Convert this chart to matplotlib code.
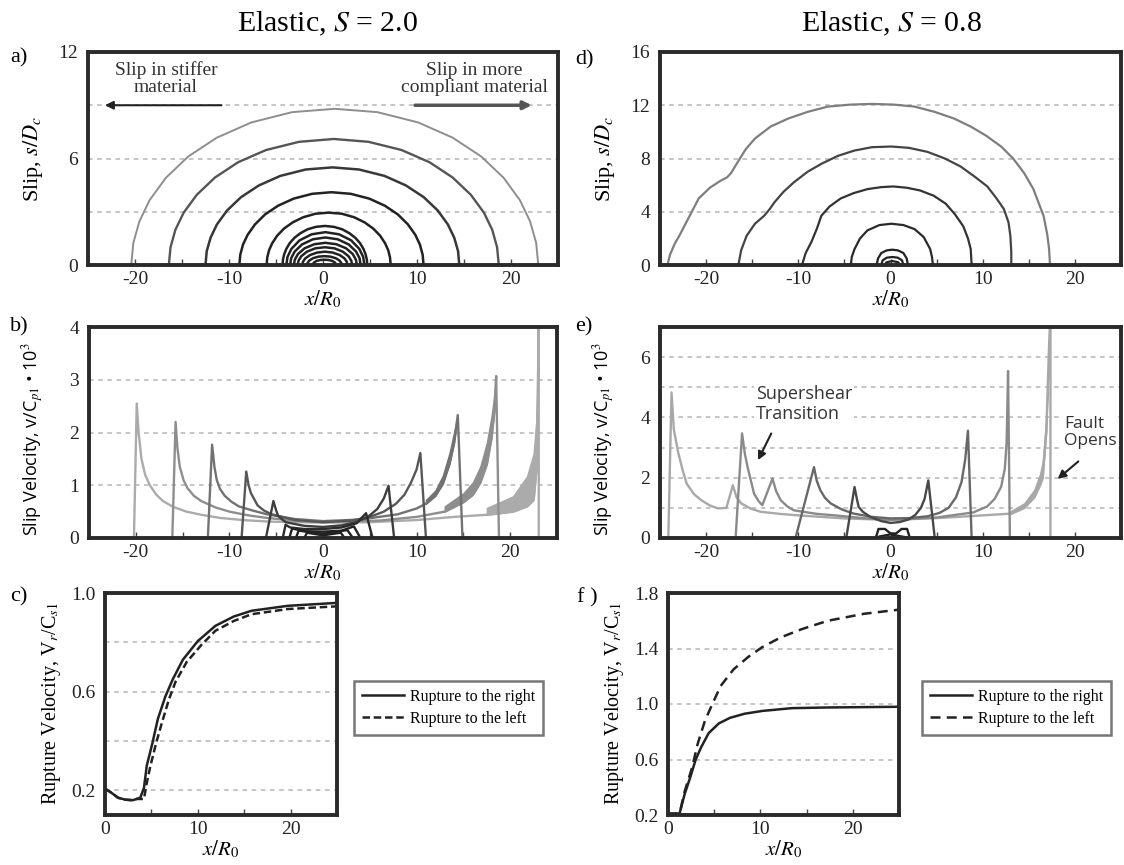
import matplotlib
matplotlib.use("Agg")
import matplotlib.pyplot as plt
from matplotlib.ticker import MultipleLocator
from matplotlib.lines import Line2D

plt.rcParams['font.family'] = ['Liberation Serif', 'DejaVu Serif']
plt.rcParams['mathtext.fontset'] = 'stix'
plt.rcParams['axes.unicode_minus'] = False

# ---- a) slip profiles, S = 2.0  (x/R0, s/Dc) ----
a_x = [
    [-20.4, -20.18, -19.53, -18.45, -16.72, -14.34, -11.31, -7.63, -3.30, 1.25, 5.80, 10.13, 13.81, 16.84, 19.22, 20.95, 22.03, 22.68, 22.9],
    [-16.4, -16.22, -15.70, -14.82, -13.42, -11.49, -9.03, -6.05, -2.54, 1.15, 4.84, 8.35, 11.33, 13.79, 15.72, 17.12, 18.0, 18.52, 18.7],
    [-12.5, -12.37, -11.96, -11.29, -10.21, -8.72, -6.83, -4.54, -1.84, 1.0, 3.84, 6.54, 8.83, 10.72, 12.21, 13.29, 13.96, 14.37, 14.5],
    [-8.9, -8.80, -8.51, -8.02, -7.23, -6.16, -4.78, -3.12, -1.16, 0.9, 2.96, 4.92, 6.58, 7.96, 9.03, 9.82, 10.31, 10.60, 10.7],
    [-6.0, -5.93, -5.74, -5.41, -4.88, -4.15, -3.23, -2.11, -0.79, 0.6, 1.99, 3.31, 4.43, 5.35, 6.08, 6.61, 6.94, 7.13, 7.2],
    [-4.3, -4.26, -4.12, -3.90, -3.54, -3.04, -2.41, -1.65, -0.75, 0.2, 1.15, 2.05, 2.81, 3.44, 3.94, 4.30, 4.52, 4.66, 4.7],
    [-3.9, -3.78, -3.36, -2.49, -1.20, 0.25, 1.70, 2.99, 3.86, 4.28, 4.4],
    [-3.5, -3.39, -3.01, -2.23, -1.06, 0.25, 1.56, 2.73, 3.51, 3.89, 4.0],
    [-3.1, -3.0, -2.66, -1.96, -0.92, 0.25, 1.42, 2.46, 3.16, 3.5, 3.6],
    [-2.7, -2.61, -2.32, -1.71, -0.82, 0.2, 1.22, 2.11, 2.72, 3.01, 3.1],
    [-2.2, -2.13, -1.89, -1.38, -0.64, 0.2, 1.04, 1.78, 2.29, 2.53, 2.6],
    [-1.7, -1.64, -1.46, -1.07, -0.50, 0.15, 0.80, 1.37, 1.76, 1.94, 2.0],
    [-1.1, -1.06, -0.94, -0.68, -0.29, 0.15, 0.59, 0.98, 1.24, 1.36, 1.4],
]
a_s = [
    [0, 1.24, 2.46, 3.65, 4.91, 6.11, 7.17, 8.03, 8.61, 8.8, 8.61, 8.03, 7.17, 6.11, 4.91, 3.65, 2.46, 1.24, 0],
    [0, 1.0, 1.99, 2.95, 3.96, 4.93, 5.79, 6.48, 6.94, 7.1, 6.94, 6.48, 5.79, 4.93, 3.96, 2.95, 1.99, 1.0, 0],
    [0, 0.78, 1.54, 2.28, 3.07, 3.82, 4.48, 5.02, 5.38, 5.5, 5.38, 5.02, 4.48, 3.82, 3.07, 2.28, 1.54, 0.78, 0],
    [0, 0.58, 1.15, 1.70, 2.29, 2.85, 3.34, 3.74, 4.01, 4.1, 4.01, 3.74, 3.34, 2.85, 2.29, 1.70, 1.15, 0.58, 0],
    [0, 0.42, 0.83, 1.22, 1.65, 2.05, 2.40, 2.69, 2.89, 2.95, 2.89, 2.69, 2.40, 2.05, 1.65, 1.22, 0.83, 0.42, 0],
    [0, 0.31, 0.62, 0.91, 1.23, 1.53, 1.79, 2.01, 2.15, 2.2, 2.15, 2.01, 1.79, 1.53, 1.23, 0.91, 0.62, 0.31, 0],
    [0, 0.45, 0.91, 1.39, 1.73, 1.85, 1.73, 1.39, 0.91, 0.45, 0],
    [0, 0.38, 0.76, 1.16, 1.45, 1.55, 1.45, 1.16, 0.76, 0.38, 0],
    [0, 0.30, 0.62, 0.94, 1.17, 1.25, 1.17, 0.94, 0.62, 0.30, 0],
    [0, 0.24, 0.49, 0.75, 0.94, 1.0, 0.94, 0.75, 0.49, 0.24, 0],
    [0, 0.18, 0.37, 0.56, 0.70, 0.75, 0.70, 0.56, 0.37, 0.18, 0],
    [0, 0.12, 0.25, 0.38, 0.47, 0.5, 0.47, 0.38, 0.25, 0.12, 0],
    [0, 0.07, 0.15, 0.23, 0.28, 0.3, 0.28, 0.23, 0.15, 0.07, 0],
]

# ---- d) slip profiles, S = 0.8 ----
d_x = [
    [-24.2, -23.9, -23.4, -22.9, -22.0, -20.8, -19.6, -18.5, -17.7, -17.3, -16.6, -15.7, -14.7, -13.0, -11.1, -9.0,
     -6.8, -4.3, -2.0, 0.3, 2.6, 4.8, 6.9, 8.7, 10.4, 12.0, 13.3, 14.5, 15.5, 16.1, 16.6, 17.0, 17.2, 17.3],
    [-16.5, -16.2, -15.6, -14.7, -13.7, -13.1, -12.6, -11.6, -10.5, -9.0, -7.5, -5.7, -3.9, -2.0, 0.1, 2.0, 4.0,
     5.9, 7.6, 9.2, 10.5, 11.5, 12.3, 12.8, 13.0, 13.1, 13.1],
    [-9.6, -9.2, -8.6, -8.0, -7.5, -6.6, -5.4, -4.0, -2.5, -1.0, 0.3, 1.8, 3.2, 4.7, 6.0, 7.0, 7.9, 8.4, 8.7, 8.8],
    [-4.3, -4.2, -3.9, -3.3, -2.5, -1.2, 0.1, 1.4, 2.6, 3.6, 4.3, 4.5, 4.6],
    [-1.5, -1.35, -1.0, -0.4, 0.2, 0.8, 1.4, 1.75, 1.9],
    [-1.0, -0.85, -0.4, 0.2, 0.8, 1.25, 1.4],
    [-0.6, -0.45, 0.2, 0.85, 1.0],
]
d_s = [
    [0, 0.8, 1.6, 2.2, 3.4, 5.0, 5.8, 6.3, 6.6, 6.9, 7.7, 8.7, 9.5, 10.4, 11.0, 11.5,
     11.9, 12.05, 12.1, 12.05, 11.9, 11.5, 11.0, 10.4, 9.7, 8.9, 8.0, 6.9, 5.7, 4.6, 3.7, 2.3, 1.2, 0],
    [0, 1.1, 2.2, 3.1, 3.7, 4.2, 4.7, 5.5, 6.2, 7.0, 7.6, 8.2, 8.6, 8.85, 8.9, 8.8, 8.5,
     8.0, 7.4, 6.6, 5.9, 5.0, 4.2, 3.2, 2.2, 1.0, 0],
    [0, 0.9, 1.7, 2.7, 3.7, 4.4, 5.0, 5.4, 5.7, 5.85, 5.9, 5.8, 5.6, 5.2, 4.6, 3.8, 2.9, 2.0, 1.2, 0],
    [0, 0.6, 1.2, 2.0, 2.6, 3.0, 3.1, 3.0, 2.7, 2.1, 1.2, 0.6, 0],
    [0, 0.5, 0.9, 1.1, 1.15, 1.1, 0.9, 0.5, 0],
    [0, 0.35, 0.55, 0.6, 0.55, 0.35, 0],
    [0, 0.2, 0.3, 0.2, 0],
]

# ---- b) slip velocity, S = 2.0 ----
b_x = [
    [-20.2, -19.9, -19.7, -19.4, -19.0, -18.5, -17.8, -17.1, -16.0, -14.6, -13.0, -11.0, -8.5, -5.7, 0, 5, 10, 14,
     17.5, 20.3, 21.8, 22.5, 22.8, 23.0, 23.05, 23.05],
    [-16.1, -15.75, -15.55, -15.3, -14.9, -14.5, -13.8, -13.0, -11.5, -10.0, -8.0, -6.0, -3.0, 0, 6, 10, 13, 15,
     16.0, 16.8, 17.5, 18.0, 18.3, 18.5, 18.8],
    [-12.3, -11.85, -11.6, -11.35, -11.0, -10.5, -9.8, -9.0, -7.5, -6.0, -3.0, 0, 4, 8, 10, 11, 12, 12.8, 13.5,
     14.0, 14.4, 14.9],
    [-8.7, -8.2, -7.95, -7.7, -7.3, -7.0, -6.3, -5.5, -3.0, 0, 3, 5, 6.5, 7.8, 8.7, 9.4, 10.0, 10.4, 11.0],
    [-6.1, -5.3, -5.0, -4.8, -4.0, -2.0, 0, 2, 3.5, 4.8, 5.8, 6.5, 7.0, 7.6],
    [-4.3, -4.0, -3.5, -2, 0, 2, 3.6, 4.6, 5.3],
    [-3.6, -3.3, -2, 0, 2, 3.3, 4.0],
    [-2.9, -2.6, 0, 2.6, 3.2],
    [-2.0, -1.7, 0, 1.9, 2.3],
]
b_v = [
    [0, 2.55, 2.0, 1.5, 1.2, 1.0, 0.82, 0.7, 0.59, 0.5, 0.44, 0.38, 0.34, 0.31, 0.29, 0.3, 0.34, 0.4,
     0.44, 0.5, 0.6, 0.72, 1.3, 3.4, 4.2, 0],
    [0, 2.2, 1.7, 1.35, 1.1, 0.95, 0.8, 0.7, 0.58, 0.5, 0.43, 0.38, 0.33, 0.3, 0.33, 0.4, 0.5, 0.68,
     0.82, 1.05, 1.4, 1.9, 2.4, 3.07, 0],
    [0, 1.77, 1.35, 1.1, 0.93, 0.8, 0.69, 0.6, 0.52, 0.45, 0.36, 0.32, 0.35, 0.45, 0.56, 0.65, 0.8, 1.03, 1.4,
     1.8, 2.33, 0],
    [0, 1.26, 1.0, 0.85, 0.72, 0.62, 0.52, 0.45, 0.34, 0.3, 0.33, 0.4, 0.5, 0.65, 0.82, 1.05, 1.3, 1.61, 0],
    [0, 0.7, 0.52, 0.42, 0.3, 0.23, 0.21, 0.24, 0.3, 0.4, 0.55, 0.75, 0.99, 0],
    [0, 0.25, 0.2, 0.17, 0.17, 0.2, 0.28, 0.47, 0],
    [0, 0.18, 0.13, 0.12, 0.14, 0.22, 0],
    [0, 0.14, 0.08, 0.15, 0],
    [0, 0.1, 0.05, 0.1, 0],
]
b_colors = ['#ababab', '#8e8e8e', '#727272', '#575757', '#3e3e3e', '#2c2c2c', '#222222', '#222222', '#222222']
# thick oscillation bands near the right tips
b_band_x = [[17.5, 20.3, 21.8, 22.5, 22.8, 23.0], [13, 15, 16.0, 16.8, 17.5, 18.0, 18.3, 18.5],
            [11, 12, 12.8, 13.5, 14.0, 14.4]]
b_band_lo = [[0.44, 0.5, 0.6, 0.72, 1.3, 3.4], [0.5, 0.68, 0.82, 1.05, 1.4, 1.9, 2.4, 3.07],
             [0.65, 0.8, 1.03, 1.4, 1.8, 2.33]]
b_band_hi = [[0.57, 0.79, 1.17, 1.6, 2.25, 3.4], [0.6, 0.85, 1.05, 1.35, 1.8, 2.3, 2.7, 3.07],
             [0.72, 0.9, 1.18, 1.6, 2.0, 2.33]]

# ---- e) slip velocity, S = 0.8 ----
e_x = [
    [-24.1, -23.75, -23.5, -23.0, -22.5, -22.1, -21.3, -20.5, -19.6, -18.7, -17.8, -17.1, -16.7, -16.2, -15.2,
     -14.1, -12.0, -10, -5, 0, 5, 10, 13.1, 14.5, 15.6, 16.2, 16.5, 16.9, 17.2, 17.35, 17.35],
    [-16.8, -16.1, -15.8, -15.5, -15.1, -14.8, -14.3, -13.9, -12.8, -12.4, -11.9, -11.2, -10.5, -8, -6, -3, 0, 5,
     9, 10.5, 11.3, 12, 12.4, 12.6, 12.75, 12.95],
    [-10.3, -8.3, -8.0, -7.6, -7.1, -6.5, -5.3, -4.0, -2, 0, 2, 4, 5.3, 6.3, 7.1, 7.7, 8.1, 8.4, 8.8],
    [-4.8, -3.9, -3.65, -3.45, -3.0, -2.2, -1, 0, 1, 2, 2.7, 3.3, 3.7, 4.1, 4.8],
    [-1.6, -1.3, -0.6, 0, 0.6, 1.2, 1.8, 2.1],
    [-1.6, -1.2, 0, 1.2, 2.1],
]
e_v = [
    [0, 4.83, 3.6, 2.8, 2.2, 1.8, 1.45, 1.25, 1.08, 0.98, 1.0, 1.75, 1.35, 1.15, 0.98,
     0.87, 0.8, 0.75, 0.65, 0.6, 0.66, 0.75, 0.81, 1.0, 1.36, 1.75, 2.0, 3.56, 6.4, 7.5, 0],
    [0, 3.47, 2.8, 2.35, 1.85, 1.47, 1.22, 1.09, 1.97, 1.55, 1.25, 1.05, 0.92, 0.8, 0.75, 0.66, 0.6, 0.68,
     0.85, 1.05, 1.3, 1.7, 2.3, 3.2, 5.54, 0],
    [0, 2.35, 1.9, 1.58, 1.33, 1.15, 0.95, 0.81, 0.7, 0.65, 0.66, 0.72, 0.83, 1.0, 1.35, 1.85, 2.6, 3.56, 0],
    [0, 1.69, 1.3, 1.03, 0.87, 0.7, 0.56, 0.5, 0.53, 0.62, 0.77, 1.0, 1.3, 1.91, 0],
    [0, 0.3, 0.3, 0.15, 0.15, 0.3, 0.3, 0],
    [0, 0.05, 0.12, 0.05, 0],
]
e_colors = ['#a8a8a8', '#8a8a8a', '#686868', '#484848', '#222222', '#222222']
e_band_x = [[13.1, 14.5, 15.6, 16.2, 16.5, 16.9, 17.2]]
e_band_lo = [[0.81, 1.0, 1.36, 1.75, 2.0, 3.56, 6.4]]
e_band_hi = [[0.9, 1.15, 1.6, 2.1, 2.5, 4.0, 6.4]]

# ---- c) / f) rupture velocity ----
c_right_x = [0, 0.7, 1.4, 2.2, 3.0, 3.8, 4.2, 4.5, 5.1, 5.7, 6.5, 7.3, 8.4, 10, 11.9, 13.9, 15.8, 19.7, 25]
c_right_v = [0.207, 0.19, 0.17, 0.162, 0.16, 0.17, 0.21, 0.3, 0.39, 0.49, 0.58, 0.65, 0.73, 0.805, 0.867,
             0.905, 0.928, 0.948, 0.96]
c_left_x = [0, 0.7, 1.4, 2.2, 3.0, 3.4, 4.2, 4.5, 4.9, 5.5, 6.1, 6.9, 7.6, 8.8, 10.4, 11.9, 13.9, 15.8, 19.7, 25]
c_left_v = [0.207, 0.19, 0.17, 0.162, 0.16, 0.165, 0.165, 0.23, 0.3, 0.39, 0.47, 0.57, 0.64, 0.72, 0.79, 0.847,
            0.887, 0.914, 0.935, 0.946]

f_right_x = [0, 1.25, 1.8, 2.4, 3.0, 3.6, 4.4, 5.5, 6.7, 8.3, 10.2, 13.4, 17.3, 25]
f_right_v = [0.21, 0.21, 0.35, 0.47, 0.6, 0.69, 0.79, 0.86, 0.9, 0.93, 0.95, 0.97, 0.975, 0.98]
f_left_x = [0, 1.25, 1.8, 2.6, 3.2, 4.0, 4.8, 5.7, 7.1, 8.7, 10.2, 12.2, 14.5, 17.3, 21.2, 25]
f_left_v = [0.21, 0.21, 0.37, 0.54, 0.71, 0.88, 1.0, 1.13, 1.25, 1.34, 1.41, 1.48, 1.54, 1.6, 1.65, 1.68]

W, H = 1124, 865
fig = plt.figure(figsize=(W / 100, H / 100), dpi=100)
SANS = ['Open Sans', 'DejaVu Sans']


def px_axes(l, t, r, b):
    return fig.add_axes([l / W, 1 - b / H, (r - l) / W, (b - t) / H])


def style(ax, xlim, ylim, yticks, ygrid, xticks, xminor):
    ax.set_xlim(*xlim)
    ax.set_ylim(*ylim)
    ax.set_yticks(yticks)
    ax.set_xticks(xticks)
    ax.xaxis.set_minor_locator(MultipleLocator(xminor))
    for g in ygrid:
        ax.axhline(g, color='#b5b5b5', lw=1.1, ls=(0, (3, 3)), zorder=0)
    for sp in ax.spines.values():
        sp.set_linewidth(2.8)
        sp.set_color('#2a2a2a')
    ax.tick_params(axis='x', which='both', direction='in', length=4, width=1, colors='#444444',
                   labelcolor='#222222', labelsize=14, pad=4)
    ax.tick_params(axis='y', length=0, labelsize=14, labelcolor='#222222', pad=7)


# panel a
ax_a = px_axes(88, 52, 558, 265)
style(ax_a, (-25, 25), (0, 12), [0, 6, 12], [3, 6, 9], [-20, -10, 0, 10, 20], 5)
a_cols = ['#8e8e8e', '#555555', '#383838'] + ['#222222'] * 10
a_lws = [1.4, 1.7, 1.8] + [1.8] * 10
for xs, ss, c, lw in zip(a_x, a_s, a_cols, a_lws):
    ax_a.plot(xs, ss, color=c, lw=lw)
ax_a.annotate('', xy=(-23.5, 9), xytext=(-10.5, 9),
              arrowprops=dict(arrowstyle='-|>', color='#222222', lw=1.5, mutation_scale=12))
ax_a.annotate('', xy=(22.5, 9), xytext=(9.5, 9),
              arrowprops=dict(arrowstyle='-|>', color='#555555', lw=2.5, mutation_scale=12))
ax_a.text(-16.7, 10.5, 'Slip in stiffer\nmaterial', ha='center', va='center', fontsize=14,
          color='#333333', linespacing=1.0)
ax_a.text(16.1, 10.5, 'Slip in more\ncompliant material', ha='center', va='center', fontsize=14,
          color='#333333', linespacing=1.0)
ax_a.set_ylabel('Slip, $s/D_c$', fontsize=16, labelpad=10)
ax_a.set_xlabel('$x/R_0$', fontsize=15, labelpad=1)

# panel d
ax_d = px_axes(660, 52, 1121, 265)
style(ax_d, (-25, 25), (0, 16), [0, 4, 8, 12, 16], [4, 8, 12], [-20, -10, 0, 10, 20], 5)
d_cols = ['#7e7e7e', '#444444', '#333333', '#2a2a2a', '#222222', '#222222', '#222222']
for xs, ss, c in zip(d_x, d_s, d_cols):
    ax_d.plot(xs, ss, color=c, lw=1.6)
ax_d.set_ylabel('Slip, $s/D_c$', fontsize=16, labelpad=10)
ax_d.set_xlabel('$x/R_0$', fontsize=15, labelpad=1)

# panel b
ax_b = px_axes(89, 327, 557, 538)
style(ax_b, (-25, 25), (0, 4), [0, 1, 2, 3, 4], [1, 2, 3], [-20, -10, 0, 10, 20], 5)
for xs, vs, c in zip(b_x, b_v, b_colors):
    ax_b.plot(xs, vs, color=c, lw=1.7)
for bx, lo, hi, c in zip(b_band_x, b_band_lo, b_band_hi, b_colors):
    ax_b.fill_between(bx, lo, hi, color=c, lw=1.0)
ax_b.set_ylabel('Slip Velocity, v/C$_{p1}$ \u2022 10$^3$', fontsize=13, family=SANS, labelpad=8)
ax_b.yaxis.set_label_coords(-0.092, 0.47)
ax_b.set_xlabel('$x/R_0$', fontsize=15, labelpad=1)

# panel e
ax_e = px_axes(660, 327, 1121, 538)
style(ax_e, (-25, 25), (0, 7), [0, 2, 4, 6], [1, 2, 3, 4, 5, 6], [-20, -10, 0, 10, 20], 5)
for xs, vs, c in zip(e_x, e_v, e_colors):
    ax_e.plot(xs, vs, color=c, lw=1.7)
for bx, lo, hi, c in zip(e_band_x, e_band_lo, e_band_hi, e_colors):
    ax_e.fill_between(bx, lo, hi, color=c, lw=1.0)
ax_e.text(-14.6, 4.45, 'Supershear\nTransition', ha='left', va='center', fontsize=13,
          family=SANS, color='#333333', linespacing=1.15, zorder=1.5,
          bbox=dict(facecolor='white', edgecolor='none', pad=1))
ax_e.annotate('', xy=(-14.5, 2.5), xytext=(-12.8, 3.55),
              arrowprops=dict(arrowstyle='-|>', color='#222222', lw=1.5, mutation_scale=12))
ax_e.text(18.8, 3.5, 'Fault\nOpens', ha='left', va='center', fontsize=12.5,
          family=SANS, color='#333333', linespacing=1.15, zorder=1.5,
          bbox=dict(facecolor='white', edgecolor='none', pad=1))
ax_e.annotate('', xy=(17.9, 1.9), xytext=(20.6, 2.6),
              arrowprops=dict(arrowstyle='-|>', color='#222222', lw=1.5, mutation_scale=12))
ax_e.set_ylabel('Slip Velocity, v/C$_{p1}$ \u2022 10$^3$', fontsize=13, family=SANS, labelpad=8)
ax_e.yaxis.set_label_coords(-0.094, 0.47)
ax_e.set_xlabel('$x/R_0$', fontsize=15, labelpad=1)

# panel c
ax_c = px_axes(105, 593, 337, 815)
style(ax_c, (0, 25), (0.1, 1.0), [0.2, 0.6, 1.0], [0.2, 0.4, 0.6, 0.8], [0, 10, 20], 5)
ax_c.plot(c_right_x, c_right_v, color='#222222', lw=1.8)
ax_c.plot(c_left_x, c_left_v, color='#222222', lw=1.8, ls=(0, (3, 1.5)))
ax_c.set_yticklabels(['0.2', '0.6', '1.0'])
ax_c.set_ylabel('Rupture Velocity, V$_r$/C$_{s1}$', fontsize=14.5, labelpad=6)
ax_c.set_xlabel('$x/R_0$', fontsize=15, labelpad=1)

# panel f
ax_f = px_axes(668, 593, 899, 815)
style(ax_f, (0, 25), (0.2, 1.8), [0.2, 0.6, 1.0, 1.4, 1.8], [0.6, 1.0, 1.4], [0, 10, 20], 5)
ax_f.plot(f_right_x, f_right_v, color='#222222', lw=1.8)
ax_f.plot(f_left_x, f_left_v, color='#222222', lw=1.8, ls=(0, (4, 2.5)))
ax_f.set_yticklabels(['0.2', '0.6', '1.0', '1.4', '1.8'])
ax_f.set_ylabel('Rupture Velocity, V$_r$/C$_{s1}$', fontsize=14.5, labelpad=6)
ax_f.set_xlabel('$x/R_0$', fontsize=15, labelpad=1)

# legends
handles_c = [Line2D([], [], color='#222222', lw=1.8),
             Line2D([], [], color='#222222', lw=1.8, ls=(0, (3, 1.5)))]
handles_f = [Line2D([], [], color='#222222', lw=1.8),
             Line2D([], [], color='#222222', lw=1.8, ls=(0, (4, 2.5)))]
labels = ['Rupture to the right', 'Rupture to the left']
for hs, xl in ((handles_c, 354), (handles_f, 922)):
    leg = fig.legend(hs, labels, loc='upper left', bbox_to_anchor=(xl / W, 1 - 681 / H),
                     fontsize=11.5, frameon=True, fancybox=False, handlelength=2.6,
                     borderpad=0.5, labelspacing=0.35, handletextpad=0.4, borderaxespad=0)
    leg.get_frame().set_edgecolor('#555555')
    leg.get_frame().set_linewidth(1.8)

# titles and panel letters
fig.text(328 / W, 1 - 24 / H, 'Elastic, $S$ = 2.0', ha='center', va='center', fontsize=21.5)
fig.text(892 / W, 1 - 24 / H, 'Elastic, $S$ = 0.8', ha='center', va='center', fontsize=21.5)
for lab, xp, yp in (('a)', 10, 58), ('b)', 10, 327), ('c)', 10, 597),
                    ('d)', 575, 60), ('e)', 575, 327), ('f )', 577, 598)):
    fig.text(xp / W, 1 - yp / H, lab, ha='left', va='center', fontsize=16)

fig.savefig('out.png', dpi=100)
